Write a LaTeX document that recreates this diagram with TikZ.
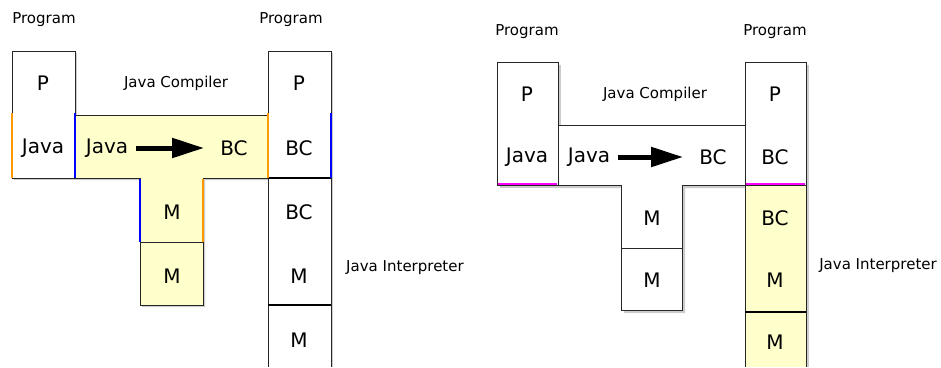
\documentclass[tikz,border=0pt]{standalone}
\usepackage{fontspec}
\setmainfont{DejaVu Sans}
\usetikzlibrary{arrows.meta}
\definecolor{cyel}{HTML}{FFFFCC}
\definecolor{corange}{HTML}{FF9900}
\definecolor{cblue}{HTML}{0000FF}
\definecolor{cmag}{HTML}{FF00FF}
\begin{document}
\begin{tikzpicture}[x=1pt,y=-1pt,
  box/.style={draw=black!85,line width=1pt},
  thickline/.style={draw=black,line width=2pt},
  shadowed/.style={fill=black!20},
  edgeo/.style={draw=corange,line width=2pt},
  edgeb/.style={draw=cblue,line width=2pt},
  edgem/.style={draw=cmag,line width=2.5pt},
  big/.style={font=\fontsize{20}{23}\selectfont, inner sep=0pt},
  small/.style={font=\fontsize{15}{18}\selectfont, inner sep=0pt},
  bigarrow/.style={-{Triangle[length=32pt,width=19pt]},line width=5pt}
]
\useasboundingbox[fill=white] (0,0) rectangle (941,367);

% ================= LEFT DIAGRAM =================
% shadows
\fill[shadowed] (14,53) rectangle (77,180);
\fill[shadowed] (77,117) -- (270,117) -- (270,180) -- (205,180) -- (205,307) -- (142,307) -- (142,180) -- (77,180) -- cycle;
\fill[shadowed] (270,53) rectangle (333,367);
% program box
\draw[box,fill=white] (12,51) rectangle (75,178);
% compiler T
\draw[box,fill=cyel] (75,115) -- (268,115) -- (268,178) -- (203,178) -- (203,242) -- (140,242) -- (140,178) -- (75,178) -- cycle;
\draw[box,fill=cyel] (140,242) rectangle (203,305);
\draw[edgeo] (12,113) -- (12,178);
\draw[edgeb] (75,113) -- (75,178);
\draw[edgeb] (140,179) -- (140,242);
\draw[edgeo] (203,179) -- (203,242);
% output column
\draw[box,fill=white] (268,51) rectangle (331,178);
\draw[box,fill=white] (268,178) rectangle (331,305);
\fill[white] (268,305) rectangle (331,367);
\draw[box] (268,367) -- (268,305) -- (331,305) -- (331,367);
\draw[thickline] (268,178) -- (331,178);
\draw[thickline] (268,305) -- (331,305);
\draw[edgeo] (268,113) -- (268,178);
\draw[edgeb] (331,113) -- (331,178);

% labels
\node[small] (prgA) at (44,20) {Program};
\node[small] (prgB) at (291,20) {Program};
\node[small] (compA) at (176,83) {Java Compiler};
\node[small] (intA) at (405,268) {Java Interpreter};
\node[big] (pA) at (43,83) {P};
\node[big] (javaA) at (43,148) {Java};
\node[big] (javaInA) at (107,148) {Java};
\node[big] (bcOutA) at (234,148) {BC};
\node[big] (mA1) at (172,212) {M};
\node[big] (mA2) at (172,276) {M};
\node[big] (pA2) at (299,83) {P};
\node[big] (bcA2) at (299,148) {BC};
\node[big] (bcA3) at (299,212) {BC};
\node[big] (mA3) at (299,276) {M};
\node[big] (mA4) at (299,340) {M};
\draw[bigarrow] ([xshift=8pt]javaInA.east) -- ([xshift=-16pt]bcOutA.west);

% ================= RIGHT DIAGRAM =================
\fill[shadowed] (500,65) rectangle (561,188);
\fill[shadowed] (561,128) -- (748,128) -- (748,188) -- (685,188) -- (685,313) -- (624,313) -- (624,188) -- (561,188) -- cycle;
\fill[shadowed] (748,65) rectangle (809,367);
\draw[box,fill=white] (497,62) rectangle (558,185);
\draw[box,fill=white] (558,125) -- (745,125) -- (745,185) -- (682,185) -- (682,248) -- (621,248) -- (621,185) -- (558,185) -- cycle;
\draw[box,fill=white] (621,248) rectangle (682,310);
\draw[box,fill=white] (745,62) rectangle (806,185);
\draw[box,fill=cyel] (745,185) rectangle (806,312);
\fill[cyel] (745,312) rectangle (806,367);
\draw[box] (745,367) -- (745,312) -- (806,312) -- (806,367);
\draw[thickline] (745,312) -- (806,312);
\draw[edgem] (498,184) -- (557,184);
\draw[edgem] (746,184) -- (805,184);

\node[small] (prgC) at (527,32) {Program};
\node[small] (prgD) at (775,32) {Program};
\node[small] (compB) at (655,94) {Java Compiler};
\node[small] (intB) at (878,266) {Java Interpreter};
\node[big] (pB) at (527,94) {P};
\node[big] (javaB) at (527,157) {Java};
\node[big] (javaInB) at (589,157) {Java};
\node[big] (bcOutB) at (713,157) {BC};
\node[big] (mB1) at (652,218) {M};
\node[big] (mB2) at (652,280) {M};
\node[big] (pB2) at (775,94) {P};
\node[big] (bcB2) at (775,157) {BC};
\node[big] (bcB3) at (775,218) {BC};
\node[big] (mB3) at (775,280) {M};
\node[big] (mB4) at (775,342) {M};
\draw[bigarrow] ([xshift=8pt]javaInB.east) -- ([xshift=-16pt]bcOutB.west);
\end{tikzpicture}
\end{document}
